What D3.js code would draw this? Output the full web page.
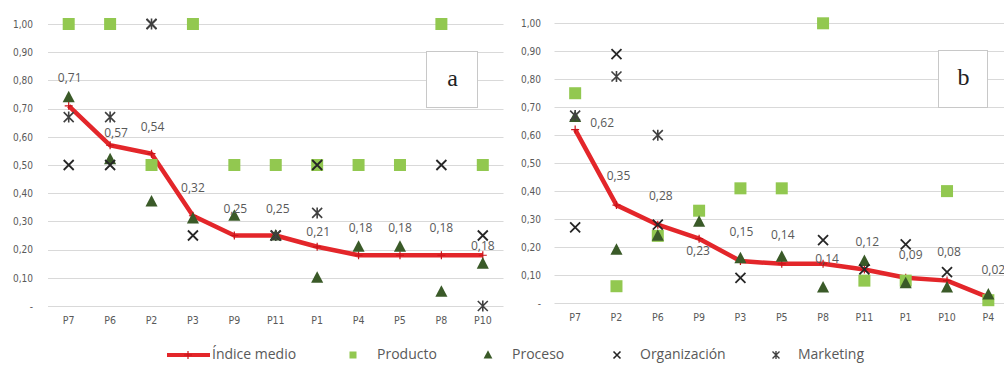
<!DOCTYPE html>
<html><head><meta charset="utf-8">
<script src="https://cdn.jsdelivr.net/npm/d3@7"></script>
<style>
html,body{margin:0;padding:0;background:#fff;}
svg{display:block;}
</style></head>
<body>
<svg id="chart" width="1004" height="365"></svg>
<script>
// ---------- DATA ----------
const yTicks = [0, 0.1, 0.2, 0.3, 0.4, 0.5, 0.6, 0.7, 0.8, 0.9, 1.0];

const categoriesA = ["P7","P6","P2","P3","P9","P11","P1","P4","P5","P8","P10"];
const indiceA      = [0.71,0.57,0.54,0.32,0.25,0.25,0.21,0.18,0.18,0.18,0.18];
const productoA    = [1.00,1.00,0.50,1.00,0.50,0.50,0.50,0.50,0.50,1.00,0.50];
const procesoA     = [0.74,0.52,0.37,0.31,0.32,0.25,0.10,0.21,0.21,0.05,0.15];
const organizacionA= [0.50,0.50,1.00,0.25,null,0.25,0.50,null,null,0.50,0.25];
const marketingA   = [0.67,0.67,1.00,null,null,0.25,0.33,null,null,null,0.00];

const categoriesB = ["P7","P2","P6","P9","P3","P5","P8","P11","P1","P10","P4"];
const indiceB      = [0.62,0.35,0.28,0.23,0.15,0.14,0.14,0.12,0.09,0.08,0.02];
const productoB    = [0.75,0.06,0.24,0.33,0.41,0.41,1.00,0.08,0.08,0.40,0.01];
const procesoB     = [0.665,0.19,0.24,0.29,0.16,0.165,0.055,0.15,0.07,0.055,0.03];
const organizacionB= [0.27,0.89,0.28,null,0.09,null,0.225,0.12,0.21,0.11,null];
const marketingB   = [0.67,0.81,0.60,null,null,null,null,null,null,null,null];

const seriesNames = ["Índice medio","Producto","Proceso","Organización","Marketing"];
const panelLetters = ["a","b"];

// label placement tweaks (pixels, dx/dy from point)
const labelOffA = [[1,-27],[6,-11],[1,-26],[0,-27],[1,-26],[2,-26],[1,-14],[2,-26],[0,-26],[0,-26],[0,-8]];
const labelOffB = [[27,-6],[2,-28],[3,-28],[-1,13],[1,-28],[1,-28],[4,-4],[3,-27],[5,-22],[2,-28],[5,-27]];

// ---------- STYLE ----------
const C = {
  grid:"#d9d9d9", text:"#595959", line:"#e3262a", lineMark:"#c8141a",
  prod:"#92c850", proc:"#3a5a28", org:"#262626", mkt:"#404040"
};
const tickFont = "'Liberation Sans Narrow','DejaVu Sans Condensed',sans-serif";
const labFont = "'Open Sans',sans-serif";

const svg = d3.select("#chart");

const panels = [
  {cats:categoriesA, ind:indiceA, prod:productoA, proc:procesoA, org:organizacionA, mkt:marketingA,
   off:labelOffA, xr:[48,503.5], yr:[306,24], tickX:33, box:[426,51,51,56], letter:panelLetters[0]},
  {cats:categoriesB, ind:indiceB, prod:productoB, proc:procesoB, org:organizacionB, mkt:marketingB,
   off:labelOffB, xr:[554.5,1009], yr:[303,23.3], tickX:541, box:[938,50,49,57], letter:panelLetters[1]}
];

function drawX(g, x, y, r, color, w){
  g.append("path").attr("d",`M${x-r},${y-r}L${x+r},${y+r}M${x-r},${y+r}L${x+r},${y-r}`)
   .attr("stroke",color).attr("stroke-width",w).attr("fill","none");
}
function drawStar(g, x, y, r, color, w){
  g.append("path").attr("d",`M${x-r},${y-r}L${x+r},${y+r}M${x-r},${y+r}L${x+r},${y-r}M${x},${y-r-0.5}L${x},${y+r+0.5}`)
   .attr("stroke",color).attr("stroke-width",w).attr("fill","none");
}
function drawTri(g, x, y, s, color){
  g.append("path").attr("d",`M${x},${y-s*0.6}L${x+s*0.55},${y+s*0.45}L${x-s*0.55},${y+s*0.45}Z`).attr("fill",color);
}

panels.forEach(p=>{
  const g = svg.append("g");
  const x = d3.scaleBand().domain(p.cats).range(p.xr).padding(0);
  const y = d3.scaleLinear().domain([0,1]).range(p.yr);
  const cx = c => x(c) + x.bandwidth()/2;

  // gridlines
  g.append("g").selectAll("line").data(yTicks).join("line")
    .attr("x1",p.xr[0]).attr("x2",p.xr[1])
    .attr("y1",d=>Math.round(y(d))+0.5).attr("y2",d=>Math.round(y(d))+0.5)
    .attr("stroke",C.grid).attr("stroke-width",1);

  // y axis labels via d3 axis
  const yAxis = d3.axisLeft(y).tickValues(yTicks).tickSize(0).tickPadding(0)
    .tickFormat(d=> d===0 ? "-  " : d3.format(".2f")(d).replace(".",","));
  const ya = g.append("g").attr("transform",`translate(${p.tickX},0)`).call(yAxis);
  ya.select(".domain").remove();
  ya.selectAll("text").attr("fill",C.text).style("font-family",tickFont).style("font-size","10px");

  // x axis labels
  const xAxis = d3.axisBottom(x).tickSize(0).tickPadding(0);
  const xa = g.append("g").attr("transform",`translate(0,${p.yr[0]+11})`).call(xAxis);
  xa.select(".domain").remove();
  xa.selectAll("text").attr("fill",C.text).style("font-family",tickFont).style("font-size","10.5px");

  // letter box
  g.append("rect").attr("x",p.box[0]+0.5).attr("y",p.box[1]+0.5).attr("width",p.box[2]).attr("height",p.box[3])
    .attr("fill","#fff").attr("stroke","#c8c8c8").attr("stroke-width",1);
  g.append("text").attr("x",p.box[0]+p.box[2]/2+1).attr("y",p.box[1]+p.box[3]/2+1)
    .attr("text-anchor","middle").attr("dominant-baseline","middle")
    .style("font-family","'Liberation Serif','DejaVu Serif',serif").style("font-size","24px")
    .attr("fill","#222").text(p.letter);

  // mean line
  const line = d3.line().x((d,i)=>cx(p.cats[i])).y(d=>y(d));
  g.append("path").datum(p.ind).attr("d",line).attr("fill","none")
    .attr("stroke",C.line).attr("stroke-width",4.5).attr("stroke-linejoin","round");
  p.ind.forEach((v,i)=>{
    const px=cx(p.cats[i]), py=y(v);
    g.append("path").attr("d",`M${px},${py-4}L${px},${py+4}M${px-4},${py}L${px+4},${py}`)
      .attr("stroke",C.lineMark).attr("stroke-width",1.2);
  });

  // Producto squares
  p.prod.forEach((v,i)=>{ if(v==null) return;
    g.append("rect").attr("x",cx(p.cats[i])-6).attr("y",y(v)-6).attr("width",12).attr("height",12).attr("fill",C.prod);
  });
  // Proceso triangles
  p.proc.forEach((v,i)=>{ if(v==null) return; drawTri(g,cx(p.cats[i]),y(v),11,C.proc); });
  // Organización X
  p.org.forEach((v,i)=>{ if(v==null) return; drawX(g,cx(p.cats[i]),y(v),5,C.org,1.8); });
  // Marketing asterisk
  p.mkt.forEach((v,i)=>{ if(v==null) return; drawStar(g,cx(p.cats[i]),y(v),5,C.mkt,1.6); });

  // data labels
  p.ind.forEach((v,i)=>{
    g.append("text").attr("x",cx(p.cats[i])+p.off[i][0]).attr("y",y(v)+p.off[i][1])
      .attr("text-anchor","middle").attr("dominant-baseline","middle")
      .style("font-family",labFont).style("font-size","12px").attr("fill",C.text)
      .text(d3.format(".2f")(v).replace(".",","));
  });
});

// ---------- LEGEND ----------
const lg = svg.append("g").attr("transform","translate(0,355)");
const legendItems = [
  {name:seriesNames[0], mx:188, tx:212},
  {name:seriesNames[1], mx:353, tx:377},
  {name:seriesNames[2], mx:488, tx:512},
  {name:seriesNames[3], mx:617, tx:640},
  {name:seriesNames[4], mx:776, tx:798}
];
// line sample
lg.append("line").attr("x1",167).attr("x2",210).attr("y1",0).attr("y2",0).attr("stroke",C.line).attr("stroke-width",4);
lg.append("path").attr("d","M188,-4L188,4M184,0L192,0").attr("stroke",C.lineMark).attr("stroke-width",1.2);
lg.append("rect").attr("x",353-3.5).attr("y",-3.5).attr("width",7).attr("height",7).attr("fill",C.prod);
drawTri(lg,488,0,8,C.proc);
drawX(lg,617,0,3.5,C.org,1.6);
drawStar(lg,776,0,3.5,C.mkt,1.4);
legendItems.forEach(it=>{
  lg.append("text").attr("x",it.tx).attr("y",0).attr("dominant-baseline","middle")
    .style("font-family",labFont).style("font-size","14px").attr("fill",C.text).text(it.name);
});
</script>
</body></html>
